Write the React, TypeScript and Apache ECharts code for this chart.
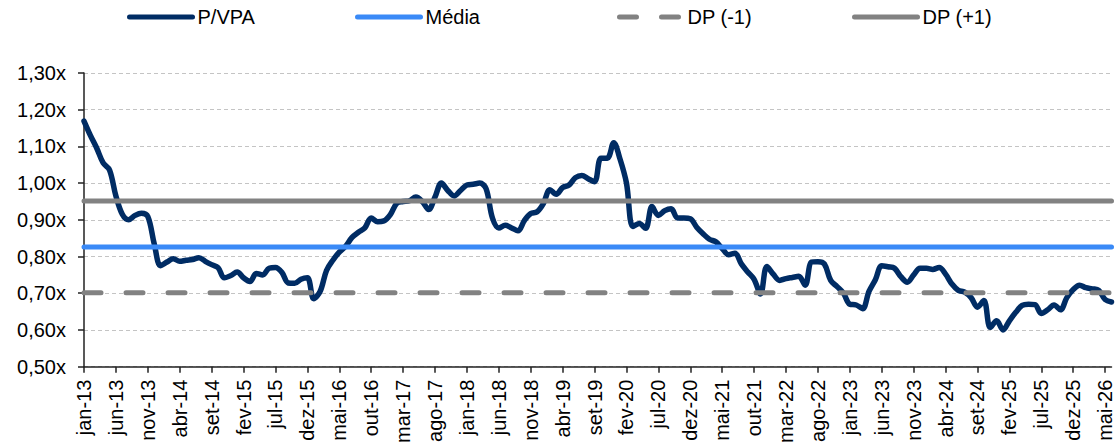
import React, { useEffect, useRef } from "react";
import * as echarts from "echarts";

const monthNames = ["jan", "fev", "mar", "abr", "mai", "jun", "jul", "ago", "set", "out", "nov", "dez"];
const startYear = 2013;
const monthCount = 162;
const categories: string[] = Array.from({ length: monthCount }, (_, i) => {
  const yy = String((startYear + Math.floor(i / 12)) % 100).padStart(2, "0");
  return `${monthNames[i % 12]}-${yy}`;
});

const pvpa = [
  1.169, 1.13, 1.095, 1.055, 1.036, 0.965, 0.915, 0.9, 0.912, 0.918,
  0.909, 0.835, 0.775, 0.785, 0.794, 0.787, 0.79, 0.792, 0.797, 0.787,
  0.778, 0.77, 0.742, 0.748, 0.758, 0.742, 0.732, 0.754, 0.75, 0.768,
  0.77, 0.757, 0.728, 0.727, 0.738, 0.742, 0.685, 0.705, 0.762, 0.79,
  0.812, 0.828, 0.852, 0.866, 0.878, 0.905, 0.895, 0.897, 0.914, 0.945,
  0.95, 0.952, 0.962, 0.95, 0.928, 0.962, 1.0, 0.98, 0.965, 0.98,
  0.995, 0.997, 1.0, 0.985, 0.905, 0.878, 0.885, 0.878, 0.87, 0.898,
  0.917, 0.922, 0.945, 0.982, 0.97, 0.988, 0.995, 1.015, 1.021, 1.012,
  1.004, 1.068, 1.068, 1.11, 1.065, 1.0, 0.882, 0.89, 0.877, 0.936,
  0.912, 0.925, 0.93, 0.905, 0.905, 0.903, 0.88, 0.862, 0.847, 0.84,
  0.822, 0.805, 0.809, 0.78, 0.758, 0.738, 0.698, 0.773, 0.752, 0.735,
  0.74, 0.743, 0.746, 0.722, 0.785, 0.786, 0.78, 0.735, 0.718, 0.7,
  0.67, 0.668, 0.658, 0.705, 0.737, 0.775, 0.772, 0.768, 0.745, 0.73,
  0.75, 0.768, 0.768, 0.765, 0.77, 0.752, 0.725, 0.708, 0.703, 0.688,
  0.662, 0.68, 0.607, 0.625, 0.6, 0.625, 0.648, 0.667, 0.67, 0.669,
  0.645, 0.655, 0.668, 0.655, 0.688, 0.71, 0.722, 0.715, 0.712, 0.708,
  0.683, 0.676,
];

const mediaValue = 0.826;
const dpMinusValue = 0.701;
const dpPlusValue = 0.951;

const yMin = 0.5;
const yMax = 1.3;
const yInterval = 0.1;

const FONT = '"Liberation Sans", Arial, sans-serif';
const NAVY = "#002c64";
const BLUE = "#3a8af7";
const GRAY = "#828282";

const flatLine = (v: number) => [
  [categories[0], v],
  [categories[categories.length - 1], v],
];

const legendAt = (name: string, left: number) => ({
  data: [name],
  left,
  top: 7,
  padding: 0,
  itemWidth: 63,
  itemHeight: 14,
  lineStyle: { width: 5 },
  itemStyle: { opacity: 0 },
  textStyle: { fontFamily: FONT, fontSize: 20, color: "#000" },
  selectedMode: false,
});

export default function App() {
  const ref = useRef<HTMLDivElement>(null);

  useEffect(() => {
    if (!ref.current) return;
    const chart = echarts.init(ref.current, undefined, { renderer: "svg" });
    chart.setOption({
      animation: false,
      backgroundColor: "#fff",
      textStyle: { fontFamily: FONT },
      legend: [
        legendAt("P/VPA", 127),
        legendAt("Média", 355),
        legendAt("DP (-1)", 617),
        legendAt("DP (+1)", 852),
      ],
      grid: { left: 84, right: 7.5, top: 73, bottom: 79, containLabel: false },
      xAxis: {
        type: "category",
        data: categories,
        boundaryGap: false,
        axisLine: { lineStyle: { color: "#222", width: 1.5 } },
        axisTick: { show: true, interval: 4, length: 6, lineStyle: { color: "#222", width: 1.5 } },
        axisLabel: {
          interval: 4,
          rotate: 90,
          margin: 13,
          fontFamily: FONT,
          fontSize: 20,
          color: "#000",
        },
        splitLine: { show: false },
      },
      yAxis: {
        type: "value",
        min: yMin,
        max: yMax,
        interval: yInterval,
        axisLine: { show: true, lineStyle: { color: "#222", width: 1.5 } },
        axisTick: { show: true, length: 6, lineStyle: { color: "#222", width: 1.5 } },
        axisLabel: {
          margin: 18,
          fontFamily: FONT,
          fontSize: 20,
          color: "#000",
          formatter: (v: number) => v.toFixed(2).replace(".", ",") + "x",
        },
        splitLine: { show: true, lineStyle: { color: "#c4c4c4", width: 1, type: [4, 3] } },
      },
      series: [
        {
          name: "P/VPA",
          type: "line",
          data: pvpa,
          symbol: "none",
          smooth: 0.35,
          lineStyle: { color: NAVY, width: 5.5, cap: "round", join: "round" },
          itemStyle: { color: NAVY },
          z: 2,
        },
        {
          name: "Média",
          type: "line",
          data: flatLine(mediaValue),
          symbol: "none",
          lineStyle: { color: BLUE, width: 5, cap: "round" },
          itemStyle: { color: BLUE },
          z: 3,
        },
        {
          name: "DP (-1)",
          type: "line",
          data: flatLine(dpMinusValue),
          symbol: "none",
          lineStyle: { color: GRAY, width: 5, cap: "round", type: [17, 25] },
          itemStyle: { color: GRAY },
          z: 3,
        },
        {
          name: "DP (+1)",
          type: "line",
          data: flatLine(dpPlusValue),
          symbol: "none",
          lineStyle: { color: GRAY, width: 5, cap: "round" },
          itemStyle: { color: GRAY },
          z: 3,
        },
      ],
    });
    return () => chart.dispose();
  }, []);

  return (
    <div
      ref={ref}
      style={{ position: "fixed", left: 0, top: 0, width: 1119, height: 446, background: "#fff" }}
    />
  );
}
